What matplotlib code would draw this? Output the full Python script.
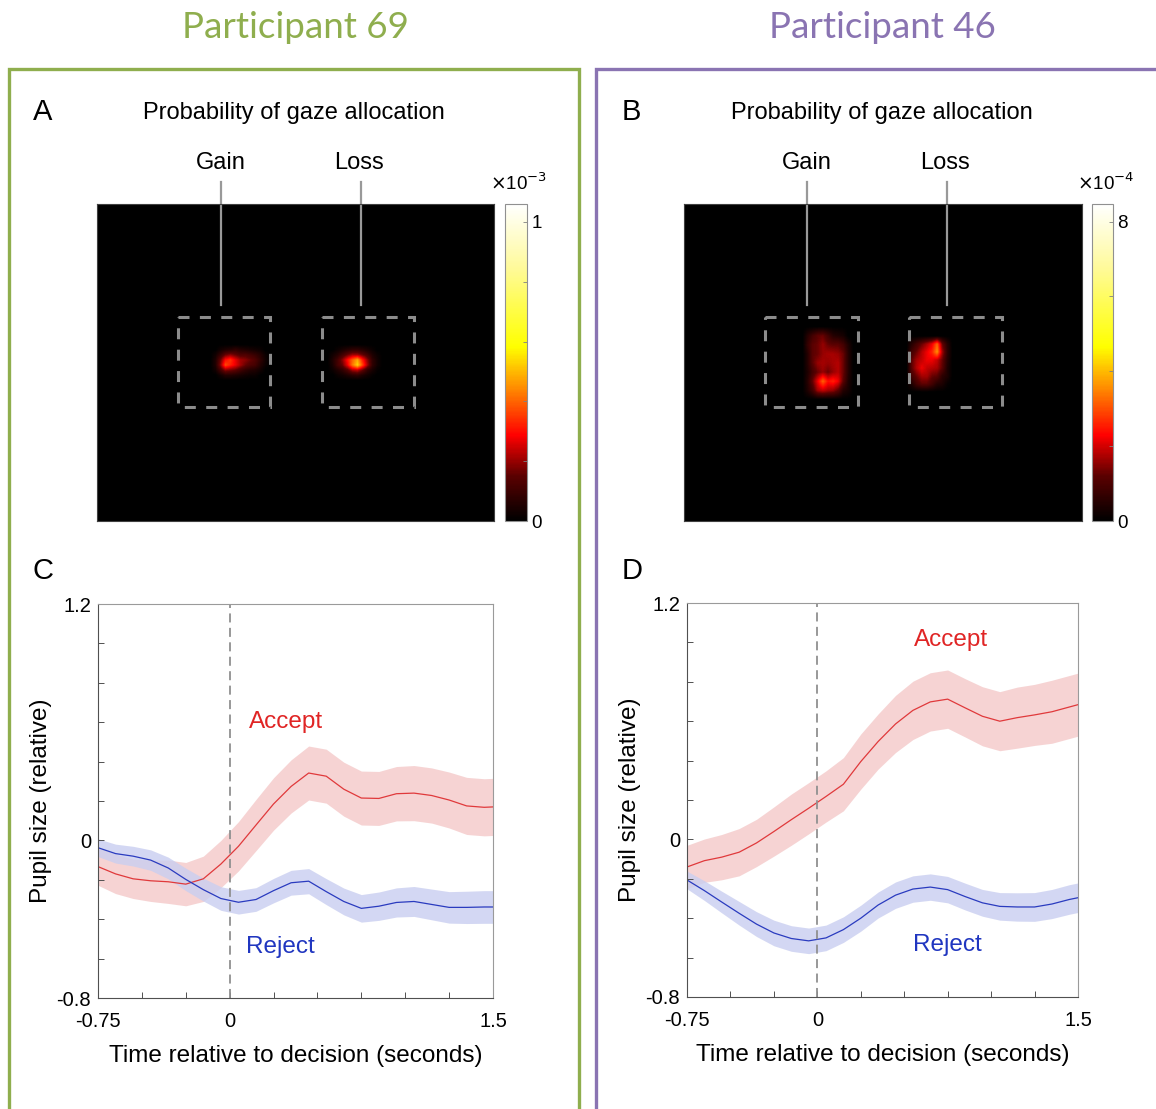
import numpy as np
import matplotlib
matplotlib.use("Agg")
import matplotlib.pyplot as plt
from matplotlib.colors import LinearSegmentedColormap
from matplotlib.patches import Rectangle

W, H = 1156, 1109

# ---- pupil traces (relative pupil size) ----
time = [-0.75, -0.65, -0.55, -0.45, -0.35, -0.25, -0.15, -0.05, 0.05, 0.15, 0.25, 0.35,
        0.45, 0.55, 0.65, 0.75, 0.85, 0.95, 1.05, 1.15, 1.25, 1.35, 1.45, 1.5]

accept_69 = [-0.133, -0.17, -0.195, -0.205, -0.21, -0.222, -0.195, -0.12, -0.03, 0.078, 0.185, 0.274,
             0.342, 0.326, 0.26, 0.215, 0.213, 0.237, 0.24, 0.228, 0.205, 0.175, 0.168, 0.17]
accept_69_err = [0.095, 0.1, 0.1, 0.105, 0.11, 0.11, 0.115, 0.12, 0.125, 0.13, 0.133, 0.135,
                 0.137, 0.137, 0.137, 0.137, 0.137, 0.138, 0.14, 0.14, 0.142, 0.145, 0.145, 0.145]
reject_69 = [-0.037, -0.067, -0.08, -0.1, -0.14, -0.198, -0.25, -0.295, -0.314, -0.3, -0.255, -0.215,
             -0.207, -0.26, -0.31, -0.345, -0.334, -0.315, -0.31, -0.325, -0.34, -0.34, -0.338, -0.338]
reject_69_err = [0.045, 0.048, 0.05, 0.052, 0.055, 0.057, 0.058, 0.06, 0.06, 0.06, 0.062, 0.063,
                 0.064, 0.066, 0.068, 0.07, 0.072, 0.074, 0.076, 0.078, 0.08, 0.082, 0.083, 0.083]

accept_46 = [-0.14, -0.108, -0.09, -0.065, -0.018, 0.04, 0.1, 0.158, 0.218, 0.28, 0.395, 0.497,
             0.586, 0.655, 0.698, 0.712, 0.668, 0.625, 0.6, 0.618, 0.632, 0.648, 0.672, 0.684]
accept_46_err = [0.11, 0.11, 0.115, 0.12, 0.12, 0.125, 0.13, 0.13, 0.13, 0.135, 0.14, 0.14,
                 0.145, 0.148, 0.148, 0.148, 0.148, 0.15, 0.15, 0.155, 0.155, 0.16, 0.16, 0.16]
reject_46 = [-0.206, -0.26, -0.318, -0.375, -0.43, -0.475, -0.503, -0.515, -0.5, -0.458, -0.4, -0.333,
             -0.283, -0.252, -0.242, -0.255, -0.29, -0.322, -0.34, -0.343, -0.343, -0.328, -0.305, -0.296]
reject_46_err = [0.045, 0.05, 0.055, 0.06, 0.063, 0.065, 0.065, 0.065, 0.065, 0.065, 0.066, 0.066,
                 0.067, 0.067, 0.067, 0.067, 0.068, 0.068, 0.07, 0.072, 0.073, 0.074, 0.075, 0.075]

# ---- gaze density blobs (screen px, 1280x1024); values in colorbar units ----
# participant 69, x10^-3
gain_69_extent = [374, 551, 562, 465]
gain_69 = [[0.0, 0.03, 0.05, 0.06, 0.08, 0.06, 0.05, 0.04, 0.03, 0.02, 0.0],
           [0.03, 0.09, 0.16, 0.19, 0.16, 0.13, 0.13, 0.11, 0.09, 0.06, 0.02],
           [0.05, 0.16, 0.30, 0.34, 0.27, 0.21, 0.19, 0.16, 0.13, 0.08, 0.03],
           [0.05, 0.19, 0.37, 0.32, 0.27, 0.21, 0.16, 0.13, 0.11, 0.06, 0.02],
           [0.03, 0.11, 0.19, 0.17, 0.15, 0.11, 0.08, 0.06, 0.05, 0.03, 0.0],
           [0.0, 0.03, 0.06, 0.06, 0.05, 0.04, 0.03, 0.02, 0.02, 0.0, 0.0]]
loss_69_extent = [751, 912, 562, 465]
loss_69 = [[0.0, 0.02, 0.04, 0.06, 0.08, 0.08, 0.06, 0.04, 0.02, 0.0],
           [0.03, 0.06, 0.11, 0.16, 0.21, 0.21, 0.16, 0.11, 0.05, 0.02],
           [0.05, 0.11, 0.19, 0.30, 0.40, 0.48, 0.32, 0.19, 0.08, 0.03],
           [0.04, 0.11, 0.16, 0.27, 0.42, 0.53, 0.37, 0.21, 0.08, 0.03],
           [0.02, 0.05, 0.08, 0.13, 0.21, 0.23, 0.16, 0.08, 0.04, 0.01],
           [0.0, 0.02, 0.03, 0.05, 0.07, 0.08, 0.05, 0.03, 0.01, 0.0]]
# participant 46, x10^-4
gain_46_extent = [389, 534, 617, 413]
gain_46 = [[0.5, 0.9, 1.2, 1.3, 0.9, 0.5, 0.4, 0.3, 0.0],
           [0.7, 1.2, 1.3, 1.6, 1.3, 1.2, 1.2, 0.9, 0.4],
           [0.5, 1.2, 1.3, 1.6, 1.7, 1.7, 1.6, 1.3, 0.5],
           [0.5, 1.2, 1.6, 1.7, 1.6, 1.7, 1.8, 1.3, 0.5],
           [0.4, 0.9, 1.3, 1.6, 1.3, 1.6, 1.8, 1.3, 0.5],
           [0.5, 1.3, 2.2, 3.2, 2.4, 2.6, 2.2, 1.2, 0.4],
           [0.4, 0.9, 1.7, 1.9, 1.7, 1.6, 1.2, 0.5, 0.3]]
loss_46_extent = [724, 853, 594, 439]
loss_46 = [[0.5, 0.9, 1.3, 1.7, 2.2, 3.2, 1.3, 0.5],
           [0.9, 1.3, 1.8, 2.2, 2.6, 3.6, 1.7, 0.6],
           [1.2, 1.7, 1.9, 2.2, 2.2, 1.9, 1.3, 0.5],
           [1.2, 1.8, 2.2, 1.9, 1.8, 1.7, 1.2, 0.4],
           [0.9, 1.3, 1.7, 1.7, 1.3, 1.2, 0.6, 0.4],
           [0.4, 0.9, 1.2, 1.2, 0.9, 0.5, 0.4, 0.1]]

vmax_69, vmax_46 = 1.06, 8.47
cbar_ticks_69 = [0, 0.2, 0.4, 0.6, 0.8, 1.0]
cbar_labels_69 = ['0', '', '', '', '', '1']
cbar_ticks_46 = [0, 2, 4, 6, 8]
cbar_labels_46 = ['0', '', '', '', '8']

GREEN = '#8fae4e'
PURPLE = '#8a74b2'
RED, PINK = '#e0393b', '#f5cfcf'
BLUE, LBLUE = '#2a3bbf', '#c9cef0'

hotmap = LinearSegmentedColormap.from_list(
    'gaze', [(0, 'black'), (0.14, '#5a0000'), (0.27, '#ff0000'), (0.42, '#ff8c00'),
             (0.55, '#ffff00'), (0.8, '#fffa9a'), (1.0, 'white')])

plt.rcParams['font.family'] = ['Liberation Sans', 'DejaVu Sans']
fig = plt.figure(figsize=(W / 100, H / 100), dpi=100)


def px_axes(x0, y0, x1, y1):
    return fig.add_axes([x0 / W, 1 - y1 / H, (x1 - x0) / W, (y1 - y0) / H])


def px_text(x, y, s, **kw):
    fig.text(x / W, 1 - y / H, s, ha='center', va='center', **kw)


# panel frames
for x0, x1, col in [(9, 579, GREEN), (596, 1170, PURPLE)]:
    fig.patches.append(Rectangle((x0 / W, -0.05), (x1 - x0) / W, 1.05 - 69 / H,
                                 transform=fig.transFigure, fill=False,
                                 edgecolor=col, linewidth=2.4))

px_text(295, 28, 'Participant 69', color=GREEN, fontsize=26.5, family='Lato')
px_text(882, 28, 'Participant 46', color=PURPLE, fontsize=26.5, family='Lato')


def heat_panel(ax_box, cb_box, blobs, vmax, ticks, labels, expo, letter, lines_x, lines_px, cx):
    ax = px_axes(*ax_box)
    ax.set_facecolor('black')
    im = None
    for grid, ext in blobs:
        g = np.pad(np.array(grid), 1)
        dx = (ext[1] - ext[0]) / (g.shape[1] - 2)
        dy = (ext[2] - ext[3]) / (g.shape[0] - 2)
        im = ax.imshow(g, cmap=hotmap, vmin=0, vmax=vmax, interpolation='bilinear',
                       extent=[ext[0] - dx, ext[1] + dx, ext[2] + dy, ext[3] - dy])
    ax.set_xlim(0, 1280)
    ax.set_ylim(1024, 0)
    ax.set_aspect('auto')
    ax.set_xticks([])
    ax.set_yticks([])
    for sp in ax.spines.values():
        sp.set_color('#404040')
        sp.set_linewidth(0.8)
    for bx in (260, 724):
        ax.add_patch(Rectangle((bx, 365), 298, 290, fill=False, edgecolor='#8c8c8c',
                               linewidth=2.2, linestyle=(0, (3.6, 3.4))))
    for lx in lines_x:
        ax.plot([lx, lx], [-71, 326], color='#999999', linewidth=1.6, clip_on=False)

    cax = px_axes(*cb_box)
    cb = fig.colorbar(im, cax=cax)
    cb.set_ticks(ticks)
    cb.set_ticklabels(labels)
    cax.tick_params(direction='in', length=3, width=0.6, colors='#808080',
                    labelcolor='black', labelsize=13.5, pad=3)
    cb.outline.set_edgecolor('#909090')
    cb.outline.set_linewidth(0.8)
    fig.text((cb_box[0] + 14) / W, 1 - 183 / H, r'$\times$10$^{%s}$' % expo,
             ha='center', va='center', fontsize=13.5)

    px_text(cx - 251, 112, letter, fontsize=21)
    px_text(cx, 113, 'Probability of gaze allocation', fontsize=17)
    px_text(lines_px[0], 163, 'Gain', fontsize=17)
    px_text(lines_px[1], 163, 'Loss', fontsize=17)


heat_panel((97, 204, 494, 521), (505, 204, 527, 521),
           [(gain_69, gain_69_extent), (loss_69, loss_69_extent)],
           vmax_69, cbar_ticks_69, cbar_labels_69, '-3', 'A', (400, 851), (221, 359), 294)
heat_panel((684, 204, 1082, 521), (1092, 204, 1113, 521),
           [(gain_46, gain_46_extent), (loss_46, loss_46_extent)],
           vmax_46, cbar_ticks_46, cbar_labels_46, '-4', 'B', (396, 846), (807, 945), 882)


def pupil_panel(box, acc, acc_err, rej, rej_err, letter, acc_xy, rej_xy):
    ax = px_axes(*box)
    t = np.array(time)
    a, ae = np.array(acc), np.array(acc_err)
    r, re = np.array(rej), np.array(rej_err)
    ax.fill_between(t, a - ae, a + ae, color=PINK, linewidth=0, alpha=0.9)
    ax.fill_between(t, r - re, r + re, color=LBLUE, linewidth=0, alpha=0.8)
    ax.plot(t, a, color=RED, linewidth=0.9)
    ax.plot(t, r, color=BLUE, linewidth=0.9)
    ax.axvline(0, color='#909090', linewidth=1.3, linestyle=(0, (5, 3)))
    ax.set_xlim(-0.75, 1.5)
    ax.set_ylim(-0.8, 1.2)
    ax.set_xticks(np.arange(-0.75, 1.51, 0.25))
    ax.set_xticklabels(['-0.75', '', '', '0', '', '', '', '', '', '1.5'])
    ax.set_yticks(np.arange(-0.8, 1.21, 0.2))
    ax.set_yticklabels(['-0.8', '', '', '', '0', '', '', '', '', '', '1.2'])
    ax.tick_params(direction='in', length=4, width=0.7, colors='#505050',
                   labelcolor='black', labelsize=14.5)
    ax.tick_params(axis='x', pad=10)
    ax.tick_params(axis='y', pad=5)
    for side in ('left', 'bottom'):
        ax.spines[side].set_color('#505050')
    for side in ('top', 'right'):
        ax.spines[side].set_color('#9a9a9a')
    ax.set_xlabel('Time relative to decision (seconds)', fontsize=17.5, labelpad=10)
    ax.set_ylabel('Pupil size (relative)', fontsize=17.5, labelpad=3)
    ax.text(acc_xy[0], acc_xy[1], 'Accept', color='#e02525', fontsize=17.5,
            ha='center', va='center')
    ax.text(rej_xy[0], rej_xy[1], 'Reject', color='#2036c0', fontsize=17.5,
            ha='center', va='center')
    px_text(box[0] - 55, 571, letter, fontsize=21)


pupil_panel((98, 604, 493, 998), accept_69, accept_69_err, reject_69, reject_69_err,
            'C', (0.32, 0.6), (0.29, -0.54))
pupil_panel((687, 603, 1078, 997), accept_46, accept_46_err, reject_46, reject_46_err,
            'D', (0.77, 1.01), (0.75, -0.535))

fig.savefig('out.png', dpi=100)
